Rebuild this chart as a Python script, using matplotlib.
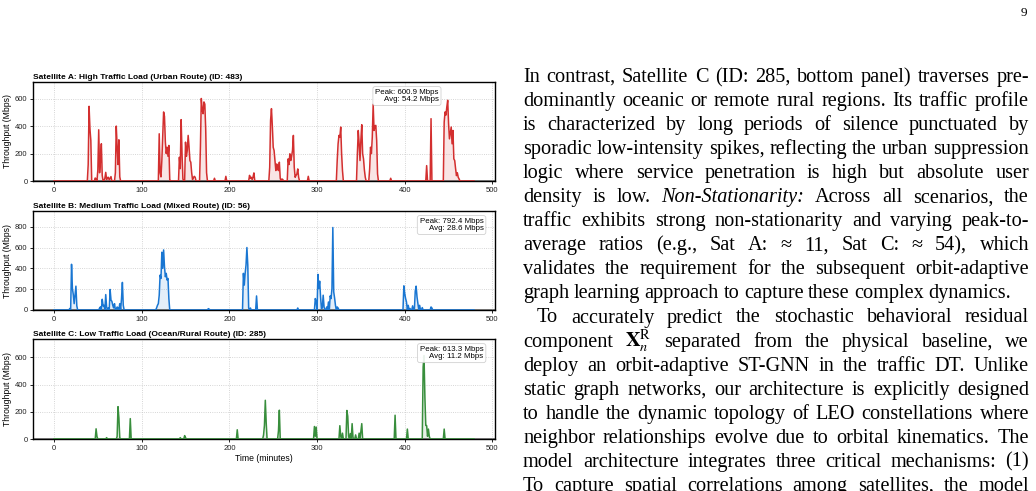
import numpy as np
import matplotlib
matplotlib.use("Agg")
from matplotlib import pyplot as plt

# ---- data (minute, Mbps); every other minute is 0 ----
N_MIN = 480
A_points = [(39, 120), (40, 544), (41, 380), (42, 295),
            (47, 22), (48, 15),
            (50, 80), (51, 373), (52, 60), (53, 150), (54, 271), (55, 40),
            (58, 20), (59, 63), (60, 10), (61, 25), (62, 27), (63, 8), (64, 20), (65, 32),
            (70, 60), (71, 400), (72, 250), (73, 120), (74, 300), (75, 30),
            (120, 344), (121, 60), (122, 30), (123, 150), (124, 320), (125, 503), (126, 470),
            (127, 283), (128, 200), (129, 246), (130, 180), (131, 259), (132, 10),
            (143, 173), (144, 90), (145, 447), (146, 200), (147, 15),
            (150, 283), (151, 180), (152, 222), (153, 332), (154, 250), (155, 149), (156, 137),
            (157, 60), (158, 10), (159, 25), (160, 34), (161, 27),
            (167, 250), (168, 600.9), (169, 520), (170, 490), (171, 576), (172, 560), (173, 380), (174, 60),
            (183, 20), (196, 34),
            (223, 41), (224, 20), (225, 27), (226, 10), (227, 30), (228, 59),
            (246, 100), (247, 441), (248, 527), (249, 400), (250, 246), (251, 222), (252, 150),
            (253, 76), (254, 124), (255, 90), (256, 76), (257, 137), (258, 20), (260, 15), (261, 10),
            (267, 161), (268, 120), (269, 198), (270, 149), (271, 180), (272, 222), (273, 332),
            (274, 100), (275, 27), (276, 40), (277, 51), (278, 88), (279, 27),
            (290, 34),
            (323, 150), (324, 271), (325, 332), (326, 320), (327, 393), (328, 200), (329, 76),
            (346, 200), (347, 368), (348, 271), (349, 149), (350, 300), (351, 410), (352, 198),
            (353, 161), (354, 80), (355, 27),
            (360, 88), (361, 246), (362, 200), (363, 320), (364, 559), (365, 368), (366, 400),
            (367, 405), (368, 295), (369, 51),
            (384, 20), (425, 112), (430, 454),
            (445, 429), (446, 503), (447, 480), (448, 539), (449, 588), (450, 417), (451, 307),
            (452, 350), (453, 393), (454, 271), (455, 368), (456, 161), (457, 149), (458, 90),
            (459, 39), (460, 60), (461, 27), (462, 15)]

B_points = [(18, 15), (20, 439), (21, 206), (22, 148), (23, 61), (24, 140), (25, 229), (26, 40),
            (52, 19), (53, 30), (55, 103), (56, 39), (57, 45), (59, 148), (60, 29), (62, 20),
            (64, 197), (65, 94), (66, 84), (67, 45), (68, 20), (69, 61), (72, 29), (73, 20),
            (75, 61), (77, 110), (78, 265), (79, 45),
            (117, 20), (118, 45), (119, 61), (120, 142), (121, 335), (122, 303), (123, 555),
            (124, 400), (125, 577), (126, 416), (127, 319), (128, 352), (129, 287), (130, 303),
            (131, 110),
            (176, 13), (177, 8),
            (216, 352), (217, 239), (218, 352), (219, 432), (220, 600), (221, 432), (222, 20),
            (224, 19), (231, 135),
            (278, 19),
            (298, 110), (299, 80), (301, 342), (302, 206), (303, 277), (304, 126), (305, 13),
            (306, 20), (307, 142), (308, 29),
            (311, 29), (313, 77), (315, 135), (316, 110), (317, 206), (318, 792.4), (319, 174),
            (320, 116), (321, 45), (323, 29), (324, 19),
            (399, 232), (400, 158), (401, 110), (402, 77), (404, 45), (406, 15), (409, 40),
            (412, 181), (413, 229), (414, 126), (415, 60), (417, 45), (420, 23),
            (430, 29), (431, 19)]

C_points = [(48, 75), (49, 18), (60, 10),
            (72, 18), (73, 238), (74, 155), (75, 10),
            (87, 150),
            (144, 10), (149, 25), (150, 10),
            (209, 68),
            (239, 30), (240, 100), (241, 285), (242, 120),
            (256, 60), (257, 212),
            (297, 92), (298, 20), (299, 88),
            (326, 98), (327, 20), (329, 43), (334, 210), (335, 168), (336, 20),
            (338, 40), (340, 113), (341, 10), (344, 30), (348, 43), (350, 55), (351, 113),
            (389, 175),
            (403, 73),
            (421, 530), (422, 613.3), (423, 305), (424, 100), (425, 98), (426, 20), (427, 73), (428, 20),
            (445, 73)]

titles = ["Satellite A: High Traffic Load (Urban Route) (ID: 483)",
          "Satellite B: Medium Traffic Load (Mixed Route) (ID: 56)",
          "Satellite C: Low Traffic Load (Ocean/Rural Route) (ID: 285)"]
peak_labels = ["600.9", "792.4", "613.3"]
avg_labels = ["54.2", "28.6", "11.2"]
colors = ["#d32f2f", "#1976d2", "#388e3c"]

# ---- paper text on the right ----
text_lines = [
    "In contrast, Satellite C (ID: 285, bottom panel) traverses pre-",
    "dominantly oceanic or remote rural regions. Its traffic profile",
    "is characterized by long periods of silence punctuated by",
    "sporadic low-intensity spikes, reflecting the urban suppression",
    "logic where service penetration is high but absolute user",
    "density is low. *Non-Stationarity:* Across all scenarios, the",
    "traffic exhibits strong non-stationarity and varying peak-to-",
    "average ratios (e.g., Sat A: \u2248 11, Sat C: \u2248 54), which",
    "validates the requirement for the subsequent orbit-adaptive",
    "graph learning approach to capture these complex dynamics.",
    "To accurately predict the stochastic behavioral residual",
    "component $\\mathbf{X}_n^{\\mathrm{R}}$ separated from the physical baseline, we",
    "deploy an orbit-adaptive ST-GNN in the traffic DT. Unlike",
    "static graph networks, our architecture is explicitly designed",
    "to handle the dynamic topology of LEO constellations where",
    "neighbor relationships evolve due to orbital kinematics. The",
    "model architecture integrates three critical mechanisms: (1)",
    "To capture spatial correlations among satellites, the model",
]
no_justify = {9}
indent_lines = {10}

W, H = 1036, 491
plt.rcParams['font.family'] = ['Liberation Sans', 'DejaVu Sans']
plt.rcParams['mathtext.fontset'] = 'stix'
fig = plt.figure(figsize=(W / 100, H / 100), dpi=100)

# axes boxes in pixels: (top, bottom)
boxes = [(82, 181), (211, 310), (339, 439)]
t = np.arange(N_MIN)
for i, pts in enumerate([A_points, B_points, C_points]):
    y = np.zeros(N_MIN)
    for m, v in pts:
        y[m] = v
    top, bot = boxes[i]
    ax = fig.add_axes([33 / W, 1 - bot / H, 462 / W, (bot - top) / H])
    ax.axhline(0, color="gray", lw=1.3, zorder=1)
    ax.plot(t, y, color=colors[i], lw=1.1, zorder=3)
    ax.fill_between(t, 0, y, color=colors[i], alpha=0.12, lw=0, zorder=2)
    ax.set_ylim(0, max(v for m, v in pts) * 1.2)
    ax.set_xticks(range(0, 501, 100))
    ax.set_title(titles[i], loc="left", fontsize=6.0, fontweight="bold", pad=2.5)
    ax.set_ylabel("Throughput (Mbps)", fontsize=6.2, labelpad=2)
    ax.tick_params(labelsize=5.5, length=2.5, width=0.6, pad=1.5, labelcolor="#222222")
    ax.grid(True, ls=":", lw=0.6, color="#c8c8c8")
    for s in ax.spines.values():
        s.set_linewidth(1.0)
    bx = 0.878 if i == 0 else 0.975
    ax.text(bx, 0.93, f"Peak: {peak_labels[i]} Mbps\nAvg: {avg_labels[i]} Mbps",
            transform=ax.transAxes, ha="right", va="top", fontsize=5.7, linespacing=1.05,
            bbox=dict(boxstyle="round,pad=0.3", fc="white", ec="#cccccc", lw=0.6, alpha=0.9),
            zorder=5)
    if i == 2:
        ax.set_xlabel("Time (minutes)", fontsize=6.2, labelpad=2)

# ---- justified serif text ----
serif = ['Liberation Serif', 'DejaVu Serif']
fig.text(1024 / W, 1 - 16 / H, "9", fontsize=9.5, family=serif, ha="center", va="baseline")
fig.canvas.draw()
renderer = fig.canvas.get_renderer()
x_left, x_right = 523, 1029
for i, line in enumerate(text_lines):
    yb = 1 - (82 + 24.05 * i) / H
    x0 = x_left + (14 if i in indent_lines else 0)
    items = []
    for w in line.split(" "):
        style = "normal"
        if w.startswith("*") and w.endswith("*"):
            w, style = w.strip("*"), "italic"
        txt = fig.text(x0 / W, yb, w, fontsize=14.6, family=serif, style=style,
                       ha="left", va="baseline")
        items.append(txt)
    widths = [tx.get_window_extent(renderer).width for tx in items]
    space = 4.6
    if i not in no_justify and len(items) > 1:
        space = (x_right - x0 - sum(widths)) / (len(items) - 1)
    x = x0
    for tx, wd in zip(items, widths):
        tx.set_x(x / W)
        x += wd + space

fig.savefig("out.png", dpi=100)
